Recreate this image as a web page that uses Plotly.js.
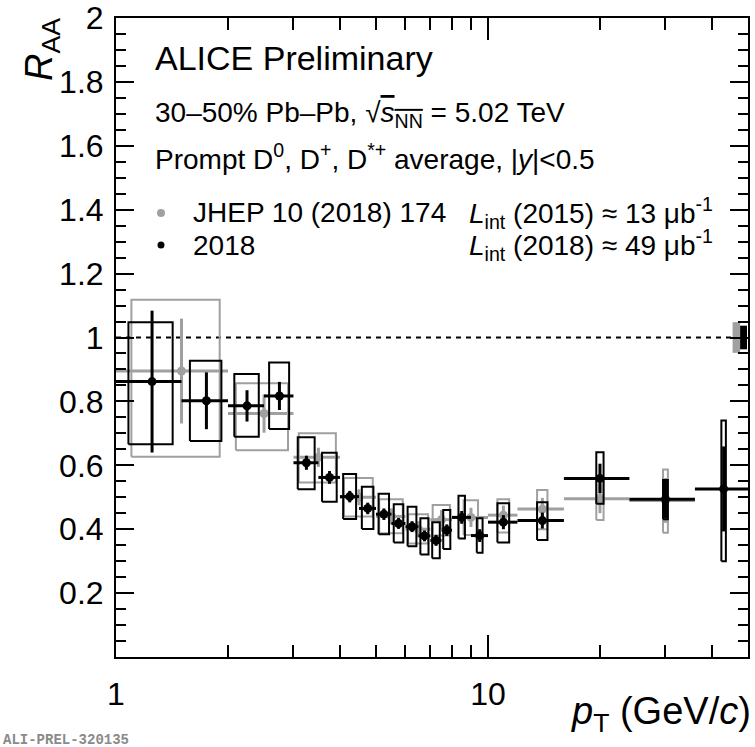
<!DOCTYPE html>
<html>
<head>
<meta charset="utf-8">
<script src="https://cdn.plot.ly/plotly-3.0.1.min.js"></script>
<style>html,body{margin:0;padding:0;background:#fff;}</style>
</head>
<body>
<div id="chart" style="width:755px;height:747px;"></div>
<script>
// ---- data ----
// 2018 Pb-Pb, 30-50%, prompt D average
const edges2018 = [1,1.5,2,2.5,3,3.5,4,4.5,5,5.5,6,6.5,7,7.5,8,9,10,12,16,24,36,50];
const raa2018 = [0.862,0.802,0.786,0.817,0.608,0.562,0.502,0.465,0.447,0.418,0.408,0.379,0.365,0.397,0.437,0.380,0.422,0.427,0.559,0.494,0.526];
const stat2018 = [0.222,0.089,0.049,0.044,0.022,0.020,0.018,0.018,0.018,0.017,0.017,0.017,0.017,0.018,0.020,0.020,0.022,0.025,0.046,0.060,0.133];
const sysLow2018 = [0.196,0.126,0.097,0.103,0.083,0.076,0.070,0.064,0.063,0.060,0.061,0.058,0.056,0.059,0.066,0.054,0.064,0.061,0.079,0.063,0.226];
const sysHigh2018 = [0.186,0.125,0.100,0.105,0.080,0.077,0.071,0.068,0.064,0.060,0.062,0.055,0.057,0.063,0.068,0.054,0.059,0.057,0.082,0.060,0.214];
// 2015 Pb-Pb, JHEP 10 (2018) 174
const edges2015 = [1,2,3,4,5,6,7,8,10,12,16,24,36];
const raa2015 = [0.895,0.762,0.625,0.500,0.440,0.400,0.430,0.437,0.444,0.463,0.495,0.490];
const stat2015 = [0.164,0.060,0.030,0.025,0.025,0.025,0.030,0.030,0.030,0.035,0.045,0.070];
const sysLow2015 = [0.268,0.115,0.079,0.060,0.053,0.045,0.050,0.055,0.054,0.063,0.066,0.101];
const sysHigh2015 = [0.223,0.095,0.075,0.060,0.054,0.047,0.046,0.054,0.050,0.060,0.066,0.097];
// normalisation uncertainties
const normUnc2015 = 0.048;
const normUnc2018 = 0.037;
// axis
const xRange = [1, 50];
const yTicks = [0.2,0.4,0.6,0.8,1,1.2,1.4,1.6,1.8,2];
const xTicks = [1, 10];
const xMinorTicks = [2,3,4,5,6,7,8,9,20,30,40];

// ---- styles ----
const BLACK = '#000000';
const GRAY = '#a0a0a0';
const FONT = 'Liberation Sans, Arial, Helvetica, sans-serif';

function centers(e){ return e.slice(0,-1).map((v,i)=>(v+e[i+1])/2); }
function halfBlack(pt){ return pt < 10 ? 0.17 : (pt < 13 ? 0.4 : (pt < 40 ? 0.45 : 0.6)); }
function halfGray(pt){ return pt < 13 ? 0.4 : 0.45; }

function boxTrace(x, y, lo, hi, halfFn, color){
  const xs = [], ys = [];
  x.forEach((xc,i)=>{
    const h = halfFn(xc);
    const xl = xc - h, xh = xc + h, yl = y[i]-lo[i], yh = y[i]+hi[i];
    xs.push(xl,xh,xh,xl,xl,null);
    ys.push(yl,yl,yh,yh,yl,null);
  });
  return {x:xs, y:ys, type:'scatter', mode:'lines', line:{color:color, width:2}, hoverinfo:'skip'};
}
function pointTrace(edges, y, stat, color){
  const x = centers(edges);
  return {
    x:x, y:y, type:'scatter', mode:'markers',
    marker:{size:9, color:color, line:{width:0}},
    error_x:{type:'data', symmetric:false,
      array:x.map((v,i)=>edges[i+1]-v), arrayminus:x.map((v,i)=>v-edges[i]),
      color:color, thickness:3, width:0},
    error_y:{type:'data', array:stat, color:color, thickness:3, width:0},
    hoverinfo:'skip'
  };
}

const x2018 = centers(edges2018), x2015 = centers(edges2015);
const xMax = xRange[1];

const traces = [
  // reference line at 1
  {x:[xRange[0], xMax/1.1], y:[1,1], type:'scatter', mode:'lines',
   line:{color:BLACK, width:2, dash:'5px,5px'}, hoverinfo:'skip'},
  // normalisation boxes
  {x:[xMax/1.1, xMax/1.05, xMax/1.05, xMax/1.1, xMax/1.1], y:[1-normUnc2015,1-normUnc2015,1+normUnc2015,1+normUnc2015,1-normUnc2015],
   type:'scatter', mode:'lines', fill:'toself', fillcolor:GRAY, line:{width:0, color:GRAY}, hoverinfo:'skip'},
  {x:[xMax/1.05, xMax/1.006, xMax/1.006, xMax/1.05, xMax/1.05], y:[1-normUnc2018,1-normUnc2018,1+normUnc2018,1+normUnc2018,1-normUnc2018],
   type:'scatter', mode:'lines', fill:'toself', fillcolor:BLACK, line:{width:0, color:BLACK}, hoverinfo:'skip'},
  boxTrace(x2015, raa2015, sysLow2015, sysHigh2015, halfGray, GRAY),
  pointTrace(edges2015, raa2015, stat2015, GRAY),
  boxTrace(x2018, raa2018, sysLow2018, sysHigh2018, halfBlack, BLACK),
  pointTrace(edges2018, raa2018, stat2018, BLACK)
];

// paper-coordinate helpers from the plot frame
const L = 116, R = 748, T = 18, B = 657;
const W = 755, H = 747;
const px = v => (v - L)/(R - L);
const py = v => (B - v)/(B - T);

function ann(text, x, y, size, opts){
  return Object.assign({text:text, xref:'paper', yref:'paper', x:px(x), y:py(y),
    xanchor:'left', yanchor:'middle', showarrow:false,
    font:{family:FONT, size:size, color:BLACK}}, opts||{});
}

const annotations = [
  ann('ALICE Preliminary', 153, 58, 34),
  ann('30\u201350% Pb\u2013Pb, \u221A<span style="text-decoration:overline"><i>s</i><sub>NN</sub></span> = 5.02 TeV', 153, 115, 28),
  ann('Prompt D<sup>0</sup>, D<sup>+</sup>, D<sup>*+</sup> average, |<i>y</i>|<0.5', 153, 157, 28),
  ann('JHEP 10 (2018) 174', 191, 213, 28),
  ann('2018', 191, 245, 28),
  ann('<i>L</i><sub>int</sub> (2015) \u2248 13 \u03BCb<sup>-1</sup>', 715, 213, 28, {xanchor:'right'}),
  ann('<i>L</i><sub>int</sub> (2018) \u2248 49 \u03BCb<sup>-1</sup>', 715, 245, 28, {xanchor:'right'}),
  ann('<i>R</i><sub>AA</sub>', 42, 50, 38, {xanchor:'center', textangle:-90}),
  ann('<i>p</i><sub>T</sub> (GeV/<i>c</i>)', 753, 714, 38, {xanchor:'right'}),
  ann('ALI-PREL-320135', 1, 740, 14, {font:{family:'Liberation Mono, Courier New, monospace', size:14, color:'#8a8a8a', weight:'bold'}, text:'<b>ALI-PREL-320135</b>'})
];

const shapes = [
  {type:'circle', xref:'paper', yref:'paper', xsizemode:'pixel', ysizemode:'pixel',
   xanchor:px(161), yanchor:py(213), x0:-4, x1:4, y0:-4, y1:4, fillcolor:GRAY, line:{width:0}},
  {type:'circle', xref:'paper', yref:'paper', xsizemode:'pixel', ysizemode:'pixel',
   xanchor:px(161), yanchor:py(245), x0:-3.5, x1:3.5, y0:-3.5, y1:3.5, fillcolor:BLACK, line:{width:0}}
];

const layout = {
  width:W, height:H,
  margin:{l:L, r:W-R, t:T, b:H-B, pad:0},
  paper_bgcolor:'#fff', plot_bgcolor:'#fff',
  showlegend:false,
  font:{family:FONT, color:BLACK},
  xaxis:{
    type:'log', range:[Math.log10(xRange[0]), Math.log10(xRange[1])],
    tickmode:'array', tickvals:xTicks, ticktext:xTicks.map(String),
    ticks:'inside', ticklen:22, tickwidth:2, tickcolor:BLACK,
    minor:{tickmode:'array', tickvals:xMinorTicks, ticks:'inside', ticklen:12, tickwidth:2, tickcolor:BLACK, showgrid:false},
    showline:true, linewidth:2, linecolor:BLACK, mirror:'ticks',
    showgrid:false, zeroline:false,
    tickfont:{family:FONT, size:32, color:BLACK},
    ticklabelstandoff:8
  },
  yaxis:{
    range:[0,2],
    tickmode:'array', tickvals:yTicks, ticktext:yTicks.map(String),
    ticks:'inside', ticklen:18, tickwidth:2, tickcolor:BLACK,
    minor:{dtick:0.05, tick0:0, ticks:'inside', ticklen:10, tickwidth:2, tickcolor:BLACK, showgrid:false},
    showline:true, linewidth:2, linecolor:BLACK, mirror:'ticks',
    showgrid:false, zeroline:false,
    tickfont:{family:FONT, size:32, color:BLACK},
    ticklabelstandoff:4
  },
  annotations:annotations,
  shapes:shapes
};

Plotly.newPlot('chart', traces, layout, {staticPlot:true, displayModeBar:false});
</script>
</body>
</html>
